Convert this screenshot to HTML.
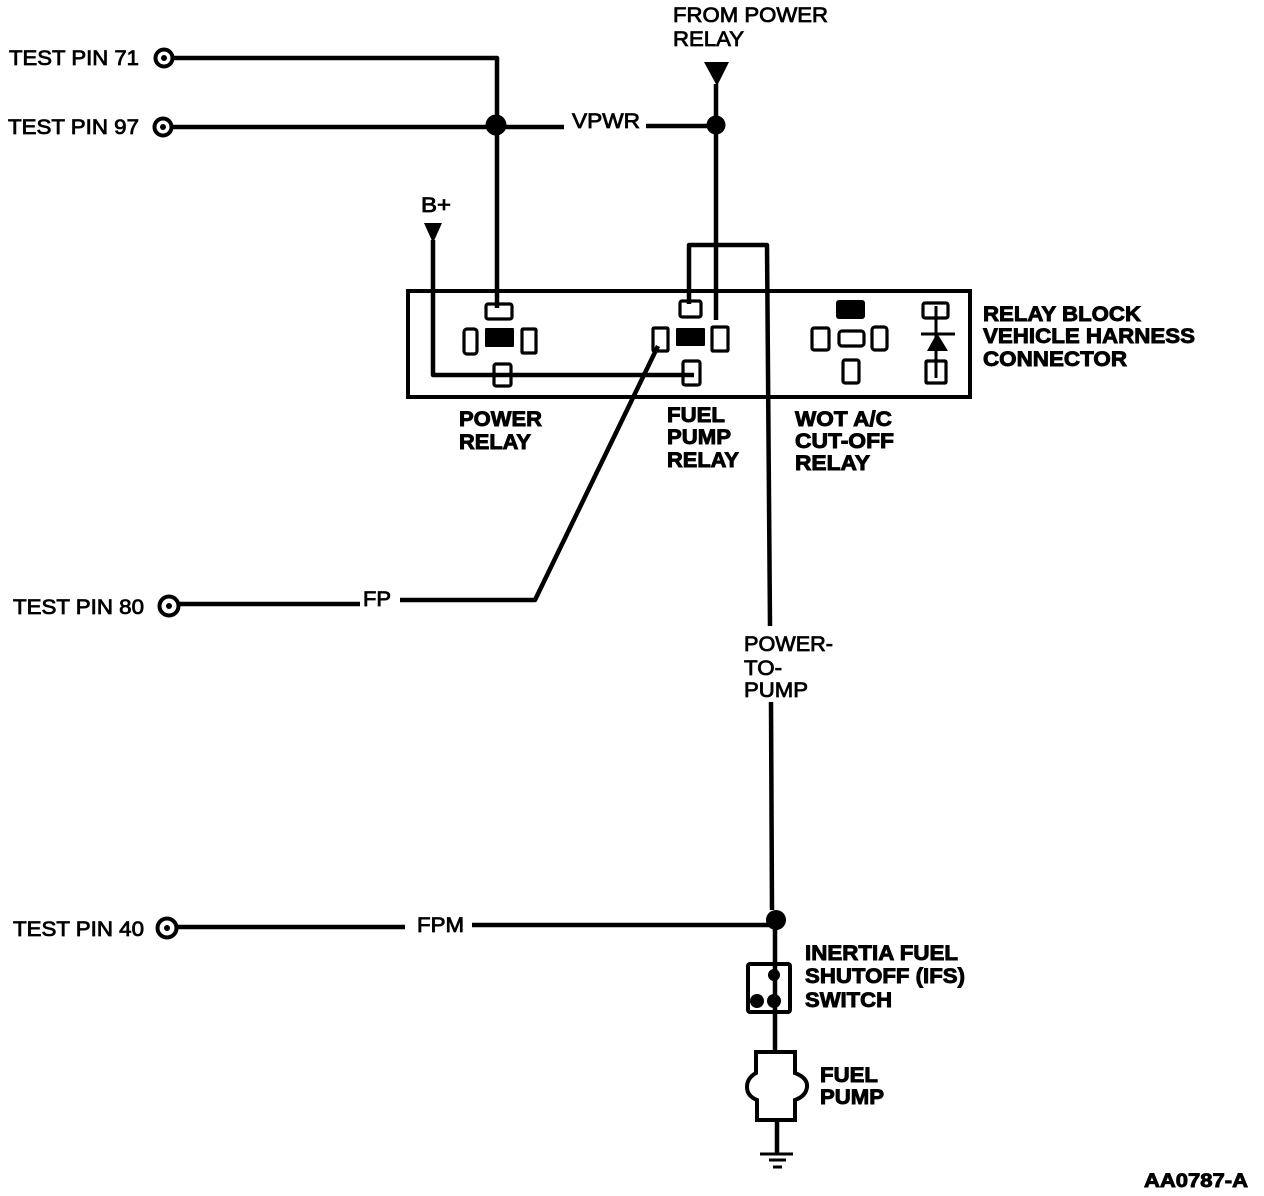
<!DOCTYPE html>
<html><head><meta charset="utf-8"><style>
html,body{margin:0;padding:0;background:#fff}
svg{display:block}
text{font-family:"Liberation Sans",sans-serif;font-size:21px;fill:#000}
.b{font-weight:bold;stroke:#000;stroke-width:.9px}
.r{stroke:#000;stroke-width:.8px}
.w{fill:none;stroke:#000;stroke-width:4.5;stroke-linejoin:round}
.t{fill:none;stroke:#000;stroke-width:4}
.k{fill:none;stroke:#000;stroke-width:3.2}
</style></head><body>
<svg width="1264" height="1196" viewBox="0 0 1264 1196" xmlns="http://www.w3.org/2000/svg">
<!-- test pins -->
<g class="t"><circle cx="164" cy="58" r="8.5"/><circle cx="163" cy="127" r="8.5"/><circle cx="169" cy="606" r="9.5"/><circle cx="167" cy="928" r="9.5"/></g>
<g fill="#000"><circle cx="164" cy="58" r="3"/><circle cx="163" cy="127" r="3"/><circle cx="169" cy="606" r="3"/><circle cx="167" cy="928" r="3"/></g>
<!-- wires -->
<path class="w" d="M173 58H497V308"/>
<path class="w" d="M172 127H564M646 126H716"/>
<path class="w" d="M716 84V320"/>
<path class="w" d="M433 240V375H694"/>
<path class="w" d="M689 304V245H767L770 626"/>
<path class="w" d="M771 702L772 910"/>
<path class="w" d="M179 604H360M400 600H535L658 346"/>
<path class="w" d="M177 927H405M472 925H776"/>
<path class="w" d="M775 920V1052M777 1120V1154"/>
<!-- junctions -->
<g fill="#000"><circle cx="496" cy="125" r="10.5"/><circle cx="716" cy="125" r="9.5"/><circle cx="776" cy="920" r="10"/>
<circle cx="774" cy="975" r="6"/><circle cx="757" cy="1001" r="7"/><circle cx="774" cy="1001" r="7"/></g>
<!-- arrowheads -->
<path d="M704 62H729L717 86Z"/><path d="M424 223H442L433 243Z"/>
<!-- relay block -->
<rect x="408" y="291" width="562" height="106" fill="none" stroke="#000" stroke-width="4"/>
<g class="k">
<rect x="486" y="304" width="26" height="15" rx="2"/><rect x="464" y="329" width="13" height="25" rx="3"/><rect x="522" y="329" width="14" height="24" rx="1"/><rect x="494" y="364" width="17" height="22" rx="2"/>
<rect x="680" y="301" width="21" height="16" rx="2"/><rect x="653" y="328" width="15" height="23" rx="1"/><rect x="712" y="327" width="16" height="24" rx="1"/><rect x="683" y="361" width="17" height="24" rx="2"/>
<rect x="839" y="331" width="25" height="15" rx="3"/><rect x="812" y="328" width="17" height="22" rx="2"/><rect x="872" y="327" width="15" height="23" rx="3"/><rect x="843" y="360" width="16" height="23" rx="2"/>
<rect x="923" y="303" width="25" height="15" rx="2"/><rect x="926" y="361" width="20" height="22" rx="1"/>
</g>
<g fill="#000"><rect x="485" y="328" width="29" height="19" rx="1"/><rect x="676" y="328" width="29" height="18" rx="1"/><rect x="836" y="300" width="29" height="19" rx="3"/>
<path d="M927 351H948L937 333Z"/></g>
<path d="M936 306V378" stroke="#000" stroke-width="3" fill="none"/>
<path d="M921 334H955" stroke="#000" stroke-width="3" fill="none"/>
<!-- IFS switch -->
<rect x="748" y="964" width="42" height="48" rx="2" fill="none" stroke="#000" stroke-width="4"/>
<!-- fuel pump -->
<path d="M756 1052H795V1073Q808 1078 807 1087Q806 1096 795 1100V1120H757V1100Q747 1096 747 1087Q747 1078 756 1073Z" fill="none" stroke="#000" stroke-width="4"/>
<!-- ground -->
<path d="M760 1154H793M769 1160H786M773 1167H782" stroke="#000" stroke-width="3" fill="none"/>
<!-- labels -->
<text class="r" x="9" y="65" textLength="130" lengthAdjust="spacingAndGlyphs">TEST PIN 71</text>
<text class="r" x="8" y="134" textLength="131" lengthAdjust="spacingAndGlyphs">TEST PIN 97</text>
<text class="r" x="13" y="614" textLength="131" lengthAdjust="spacingAndGlyphs">TEST PIN 80</text>
<text class="r" x="13" y="936" textLength="131" lengthAdjust="spacingAndGlyphs">TEST PIN 40</text>
<text class="r" x="673" y="22" textLength="155" lengthAdjust="spacingAndGlyphs">FROM POWER</text>
<text class="r" x="673" y="46" textLength="71" lengthAdjust="spacingAndGlyphs">RELAY</text>
<text class="r" x="572" y="128" textLength="68" lengthAdjust="spacingAndGlyphs">VPWR</text>
<text class="r" x="421" y="212" textLength="30" lengthAdjust="spacingAndGlyphs">B+</text>
<text class="r" x="363" y="606" textLength="28" lengthAdjust="spacingAndGlyphs">FP</text>
<text class="r" x="417" y="932" textLength="47" lengthAdjust="spacingAndGlyphs">FPM</text>
<text class="r" x="744" y="651" textLength="89" lengthAdjust="spacingAndGlyphs">POWER-</text>
<text class="r" x="744" y="675" textLength="38" lengthAdjust="spacingAndGlyphs">TO-</text>
<text class="r" x="744" y="697" textLength="64" lengthAdjust="spacingAndGlyphs">PUMP</text>
<text class="b" x="983" y="321" textLength="158" lengthAdjust="spacingAndGlyphs">RELAY BLOCK</text>
<text class="b" x="983" y="343" textLength="212" lengthAdjust="spacingAndGlyphs">VEHICLE HARNESS</text>
<text class="b" x="983" y="366" textLength="144" lengthAdjust="spacingAndGlyphs">CONNECTOR</text>
<text class="b" x="459" y="426" textLength="83" lengthAdjust="spacingAndGlyphs">POWER</text>
<text class="b" x="459" y="449" textLength="72" lengthAdjust="spacingAndGlyphs">RELAY</text>
<text class="b" x="667" y="422" textLength="58" lengthAdjust="spacingAndGlyphs">FUEL</text>
<text class="b" x="667" y="444" textLength="64" lengthAdjust="spacingAndGlyphs">PUMP</text>
<text class="b" x="667" y="467" textLength="72" lengthAdjust="spacingAndGlyphs">RELAY</text>
<text class="b" x="795" y="426" textLength="97" lengthAdjust="spacingAndGlyphs">WOT A/C</text>
<text class="b" x="795" y="448" textLength="99" lengthAdjust="spacingAndGlyphs">CUT-OFF</text>
<text class="b" x="795" y="470" textLength="75" lengthAdjust="spacingAndGlyphs">RELAY</text>
<text class="b" x="805" y="960" textLength="153" lengthAdjust="spacingAndGlyphs">INERTIA FUEL</text>
<text class="b" x="805" y="983" textLength="160" lengthAdjust="spacingAndGlyphs">SHUTOFF (IFS)</text>
<text class="b" x="805" y="1007" textLength="87" lengthAdjust="spacingAndGlyphs">SWITCH</text>
<text class="b" x="820" y="1082" textLength="58" lengthAdjust="spacingAndGlyphs">FUEL</text>
<text class="b" x="820" y="1104" textLength="64" lengthAdjust="spacingAndGlyphs">PUMP</text>
<text class="b" x="1144" y="1187" textLength="104" lengthAdjust="spacingAndGlyphs" style="font-size:19px">AA0787-A</text>
</svg>
</body></html>
